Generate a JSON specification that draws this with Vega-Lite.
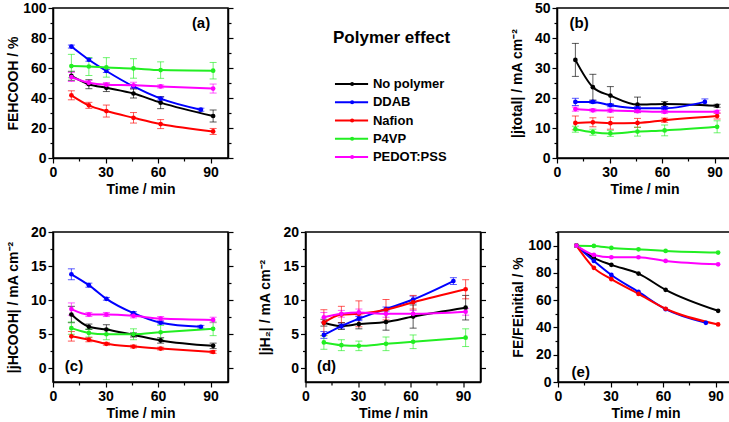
{
"$schema":"https://vega.github.io/schema/vega-lite/v6.json",
"padding":{"left":5,"top":0,"right":0,"bottom":0},
"spacing":27,
"datasets":{"d":[
{"p":"a","s":"No polymer","t":10.5,"v":54.8,"lo":51.8,"hi":57.8},
{"p":"a","s":"No polymer","t":20.5,"v":49.2,"lo":46.2,"hi":52.2},
{"p":"a","s":"No polymer","t":30.5,"v":46.8,"lo":44.3,"hi":49.3},
{"p":"a","s":"No polymer","t":46,"v":43.0,"lo":40.0,"hi":46.0},
{"p":"a","s":"No polymer","t":61.5,"v":36.9,"lo":32.9,"hi":40.9},
{"p":"a","s":"No polymer","t":91.5,"v":28.0,"lo":24.0,"hi":32.0},
{"p":"a","s":"DDAB","t":10.5,"v":74.3,"lo":73.3,"hi":75.3},
{"p":"a","s":"DDAB","t":20.5,"v":65.5,"lo":64.5,"hi":66.5},
{"p":"a","s":"DDAB","t":30.5,"v":58.0,"lo":57.0,"hi":59.0},
{"p":"a","s":"DDAB","t":46,"v":47.7,"lo":46.7,"hi":48.7},
{"p":"a","s":"DDAB","t":61.5,"v":39.6,"lo":38.6,"hi":40.6},
{"p":"a","s":"DDAB","t":84.5,"v":32.2,"lo":31.2,"hi":33.2},
{"p":"a","s":"Nafion","t":10.5,"v":41.8,"lo":38.8,"hi":44.8},
{"p":"a","s":"Nafion","t":20.5,"v":35.1,"lo":33.1,"hi":37.1},
{"p":"a","s":"Nafion","t":30.5,"v":31.3,"lo":27.3,"hi":35.3},
{"p":"a","s":"Nafion","t":46,"v":26.8,"lo":23.3,"hi":30.3},
{"p":"a","s":"Nafion","t":61.5,"v":22.6,"lo":19.6,"hi":25.6},
{"p":"a","s":"Nafion","t":91.5,"v":17.7,"lo":15.7,"hi":19.7},
{"p":"a","s":"P4VP","t":10.5,"v":61.3,"lo":53.5,"hi":69.1},
{"p":"a","s":"P4VP","t":20.5,"v":61.0,"lo":55.0,"hi":67.0},
{"p":"a","s":"P4VP","t":30.5,"v":60.4,"lo":53.9,"hi":66.9},
{"p":"a","s":"P4VP","t":46,"v":59.7,"lo":53.2,"hi":66.2},
{"p":"a","s":"P4VP","t":61.5,"v":58.6,"lo":53.1,"hi":64.1},
{"p":"a","s":"P4VP","t":91.5,"v":58.2,"lo":52.7,"hi":63.7},
{"p":"a","s":"PEDOT:PSS","t":10.5,"v":54.0,"lo":51.0,"hi":57.0},
{"p":"a","s":"PEDOT:PSS","t":20.5,"v":50.1,"lo":48.6,"hi":51.6},
{"p":"a","s":"PEDOT:PSS","t":30.5,"v":48.8,"lo":47.3,"hi":50.3},
{"p":"a","s":"PEDOT:PSS","t":46,"v":48.5,"lo":46.5,"hi":50.5},
{"p":"a","s":"PEDOT:PSS","t":61.5,"v":47.7,"lo":46.7,"hi":48.7},
{"p":"a","s":"PEDOT:PSS","t":91.5,"v":46.3,"lo":43.3,"hi":49.3},
{"p":"b","s":"No polymer","t":10.5,"v":32.7,"lo":27.2,"hi":38.2},
{"p":"b","s":"No polymer","t":20.5,"v":23.6,"lo":19.3,"hi":27.9},
{"p":"b","s":"No polymer","t":30.5,"v":20.8,"lo":17.8,"hi":23.8},
{"p":"b","s":"No polymer","t":46,"v":17.8,"lo":15.3,"hi":20.3},
{"p":"b","s":"No polymer","t":61.5,"v":18.0,"lo":17.2,"hi":18.8},
{"p":"b","s":"No polymer","t":91.5,"v":17.4,"lo":16.9,"hi":17.9},
{"p":"b","s":"DDAB","t":10.5,"v":18.7,"lo":17.5,"hi":19.9},
{"p":"b","s":"DDAB","t":20.5,"v":18.7,"lo":18.2,"hi":19.2},
{"p":"b","s":"DDAB","t":30.5,"v":17.6,"lo":17.1,"hi":18.1},
{"p":"b","s":"DDAB","t":46,"v":16.6,"lo":16.1,"hi":17.1},
{"p":"b","s":"DDAB","t":61.5,"v":16.6,"lo":16.1,"hi":17.1},
{"p":"b","s":"DDAB","t":84.5,"v":18.7,"lo":17.7,"hi":19.7},
{"p":"b","s":"Nafion","t":10.5,"v":11.7,"lo":9.4,"hi":14.0},
{"p":"b","s":"Nafion","t":20.5,"v":11.9,"lo":10.4,"hi":13.4},
{"p":"b","s":"Nafion","t":30.5,"v":11.6,"lo":9.6,"hi":13.6},
{"p":"b","s":"Nafion","t":46,"v":11.7,"lo":10.2,"hi":13.2},
{"p":"b","s":"Nafion","t":61.5,"v":12.6,"lo":11.9,"hi":13.3},
{"p":"b","s":"Nafion","t":91.5,"v":14.0,"lo":13.0,"hi":15.0},
{"p":"b","s":"P4VP","t":10.5,"v":9.6,"lo":8.6,"hi":10.6},
{"p":"b","s":"P4VP","t":20.5,"v":8.6,"lo":7.6,"hi":9.6},
{"p":"b","s":"P4VP","t":30.5,"v":8.2,"lo":7.2,"hi":9.2},
{"p":"b","s":"P4VP","t":46,"v":8.8,"lo":7.3,"hi":10.3},
{"p":"b","s":"P4VP","t":61.5,"v":9.2,"lo":7.4,"hi":11.0},
{"p":"b","s":"P4VP","t":91.5,"v":10.4,"lo":8.4,"hi":12.4},
{"p":"b","s":"PEDOT:PSS","t":10.5,"v":16.3,"lo":15.6,"hi":17.0},
{"p":"b","s":"PEDOT:PSS","t":20.5,"v":15.9,"lo":15.4,"hi":16.4},
{"p":"b","s":"PEDOT:PSS","t":30.5,"v":15.8,"lo":15.3,"hi":16.3},
{"p":"b","s":"PEDOT:PSS","t":46,"v":15.6,"lo":15.1,"hi":16.1},
{"p":"b","s":"PEDOT:PSS","t":61.5,"v":15.4,"lo":14.9,"hi":15.9},
{"p":"b","s":"PEDOT:PSS","t":91.5,"v":15.4,"lo":14.9,"hi":15.9},
{"p":"c","s":"No polymer","t":10.5,"v":7.9,"lo":6.7,"hi":9.1},
{"p":"c","s":"No polymer","t":20.5,"v":6.1,"lo":5.7,"hi":6.5},
{"p":"c","s":"No polymer","t":30.5,"v":5.7,"lo":5.0,"hi":6.4},
{"p":"c","s":"No polymer","t":46,"v":4.9,"lo":4.6,"hi":5.2},
{"p":"c","s":"No polymer","t":61.5,"v":4.1,"lo":3.7,"hi":4.5},
{"p":"c","s":"No polymer","t":91.5,"v":3.3,"lo":2.9,"hi":3.7},
{"p":"c","s":"DDAB","t":10.5,"v":13.8,"lo":13.0,"hi":14.6},
{"p":"c","s":"DDAB","t":20.5,"v":12.2,"lo":11.9,"hi":12.5},
{"p":"c","s":"DDAB","t":30.5,"v":10.2,"lo":10.0,"hi":10.4},
{"p":"c","s":"DDAB","t":46,"v":8.1,"lo":7.9,"hi":8.3},
{"p":"c","s":"DDAB","t":61.5,"v":6.7,"lo":6.5,"hi":6.9},
{"p":"c","s":"DDAB","t":84.5,"v":6.1,"lo":5.9,"hi":6.3},
{"p":"c","s":"Nafion","t":10.5,"v":4.7,"lo":4.0,"hi":5.4},
{"p":"c","s":"Nafion","t":20.5,"v":4.2,"lo":3.9,"hi":4.5},
{"p":"c","s":"Nafion","t":30.5,"v":3.6,"lo":3.4,"hi":3.8},
{"p":"c","s":"Nafion","t":46,"v":3.2,"lo":3.0,"hi":3.4},
{"p":"c","s":"Nafion","t":61.5,"v":2.9,"lo":2.7,"hi":3.1},
{"p":"c","s":"Nafion","t":91.5,"v":2.4,"lo":2.2,"hi":2.6},
{"p":"c","s":"P4VP","t":10.5,"v":5.9,"lo":5.0,"hi":6.8},
{"p":"c","s":"P4VP","t":20.5,"v":5.2,"lo":4.6,"hi":5.8},
{"p":"c","s":"P4VP","t":30.5,"v":5.0,"lo":4.2,"hi":5.8},
{"p":"c","s":"P4VP","t":46,"v":5.0,"lo":4.2,"hi":5.8},
{"p":"c","s":"P4VP","t":61.5,"v":5.3,"lo":4.3,"hi":6.3},
{"p":"c","s":"P4VP","t":91.5,"v":5.8,"lo":4.8,"hi":6.8},
{"p":"c","s":"PEDOT:PSS","t":10.5,"v":8.7,"lo":7.8,"hi":9.6},
{"p":"c","s":"PEDOT:PSS","t":20.5,"v":7.9,"lo":7.6,"hi":8.2},
{"p":"c","s":"PEDOT:PSS","t":30.5,"v":7.9,"lo":7.6,"hi":8.2},
{"p":"c","s":"PEDOT:PSS","t":46,"v":7.7,"lo":7.4,"hi":8.0},
{"p":"c","s":"PEDOT:PSS","t":61.5,"v":7.3,"lo":7.0,"hi":7.6},
{"p":"c","s":"PEDOT:PSS","t":91.5,"v":7.1,"lo":6.7,"hi":7.5},
{"p":"d","s":"No polymer","t":10.5,"v":6.7,"lo":6.2,"hi":7.2},
{"p":"d","s":"No polymer","t":20.5,"v":6.2,"lo":5.7,"hi":6.7},
{"p":"d","s":"No polymer","t":30.5,"v":6.5,"lo":5.8,"hi":7.2},
{"p":"d","s":"No polymer","t":46,"v":6.8,"lo":5.6,"hi":8.0},
{"p":"d","s":"No polymer","t":61.5,"v":7.6,"lo":5.9,"hi":9.3},
{"p":"d","s":"No polymer","t":91.5,"v":8.9,"lo":7.1,"hi":10.7},
{"p":"d","s":"DDAB","t":10.5,"v":4.9,"lo":4.4,"hi":5.4},
{"p":"d","s":"DDAB","t":20.5,"v":6.2,"lo":5.9,"hi":6.5},
{"p":"d","s":"DDAB","t":30.5,"v":7.3,"lo":7.0,"hi":7.6},
{"p":"d","s":"DDAB","t":46,"v":8.7,"lo":8.4,"hi":9.0},
{"p":"d","s":"DDAB","t":61.5,"v":10.1,"lo":9.6,"hi":10.6},
{"p":"d","s":"DDAB","t":84.5,"v":12.8,"lo":12.3,"hi":13.3},
{"p":"d","s":"Nafion","t":10.5,"v":6.7,"lo":4.8,"hi":8.6},
{"p":"d","s":"Nafion","t":20.5,"v":7.9,"lo":6.7,"hi":9.1},
{"p":"d","s":"Nafion","t":30.5,"v":8.0,"lo":6.1,"hi":9.9},
{"p":"d","s":"Nafion","t":46,"v":8.6,"lo":7.1,"hi":10.1},
{"p":"d","s":"Nafion","t":61.5,"v":9.7,"lo":8.7,"hi":10.7},
{"p":"d","s":"Nafion","t":91.5,"v":11.6,"lo":10.2,"hi":13.0},
{"p":"d","s":"P4VP","t":10.5,"v":3.8,"lo":2.8,"hi":4.8},
{"p":"d","s":"P4VP","t":20.5,"v":3.4,"lo":2.6,"hi":4.2},
{"p":"d","s":"P4VP","t":30.5,"v":3.3,"lo":2.6,"hi":4.0},
{"p":"d","s":"P4VP","t":46,"v":3.6,"lo":2.6,"hi":4.6},
{"p":"d","s":"P4VP","t":61.5,"v":3.9,"lo":2.9,"hi":4.9},
{"p":"d","s":"P4VP","t":91.5,"v":4.5,"lo":3.2,"hi":5.8},
{"p":"d","s":"PEDOT:PSS","t":10.5,"v":7.5,"lo":6.8,"hi":8.2},
{"p":"d","s":"PEDOT:PSS","t":20.5,"v":8.0,"lo":7.5,"hi":8.5},
{"p":"d","s":"PEDOT:PSS","t":30.5,"v":8.2,"lo":7.7,"hi":8.7},
{"p":"d","s":"PEDOT:PSS","t":46,"v":8.0,"lo":7.5,"hi":8.5},
{"p":"d","s":"PEDOT:PSS","t":61.5,"v":8.0,"lo":7.5,"hi":8.5},
{"p":"d","s":"PEDOT:PSS","t":91.5,"v":8.3,"lo":7.8,"hi":8.8},
{"p":"e","s":"No polymer","t":10.5,"v":100},
{"p":"e","s":"No polymer","t":20.5,"v":91.0},
{"p":"e","s":"No polymer","t":30.5,"v":85.9},
{"p":"e","s":"No polymer","t":46,"v":79.5},
{"p":"e","s":"No polymer","t":61.5,"v":67.6},
{"p":"e","s":"No polymer","t":91.5,"v":52.2},
{"p":"e","s":"DDAB","t":10.5,"v":100},
{"p":"e","s":"DDAB","t":20.5,"v":88.8},
{"p":"e","s":"DDAB","t":30.5,"v":78.5},
{"p":"e","s":"DDAB","t":46,"v":66.1},
{"p":"e","s":"DDAB","t":61.5,"v":53.4},
{"p":"e","s":"DDAB","t":84.5,"v":43.4},
{"p":"e","s":"Nafion","t":10.5,"v":100},
{"p":"e","s":"Nafion","t":20.5,"v":83.7},
{"p":"e","s":"Nafion","t":30.5,"v":75.4},
{"p":"e","s":"Nafion","t":46,"v":64.6},
{"p":"e","s":"Nafion","t":61.5,"v":53.7},
{"p":"e","s":"Nafion","t":91.5,"v":42.2},
{"p":"e","s":"P4VP","t":10.5,"v":100},
{"p":"e","s":"P4VP","t":20.5,"v":99.8},
{"p":"e","s":"P4VP","t":30.5,"v":98.3},
{"p":"e","s":"P4VP","t":46,"v":97.3},
{"p":"e","s":"P4VP","t":61.5,"v":96.1},
{"p":"e","s":"P4VP","t":91.5,"v":94.9},
{"p":"e","s":"PEDOT:PSS","t":10.5,"v":100},
{"p":"e","s":"PEDOT:PSS","t":20.5,"v":93.2},
{"p":"e","s":"PEDOT:PSS","t":30.5,"v":91.5},
{"p":"e","s":"PEDOT:PSS","t":46,"v":91.5},
{"p":"e","s":"PEDOT:PSS","t":61.5,"v":88.8},
{"p":"e","s":"PEDOT:PSS","t":91.5,"v":86.3}
]},
"vconcat":[
{"hconcat":[
{"width":175,"height":150,"data":{"name":"d"},"transform":[{"filter":"datum.p === 'a'"}],
 "resolve":{"scale":{"y":"independent"}},
 "layer":[
  {"encoding":{"x":{"field":"t","type":"quantitative","title":"Time / min","scale":{"domain":[0,100],"nice":false},
     "axis":{"values":[0,15,30,45,60,75,90],"format":"d","tickCount":100,"labelOverlap":false,"labelExpr":"datum.value % 30 === 0 ? datum.label : ''","tickSize":{"condition":{"test":"datum.value % 30 === 0","value":5},"value":3},"labelPadding":2,"titlePadding":3}}},
   "layer":[
    {"mark":{"type":"errorbar","ticks":{"size":7},"thickness":1,"opacity":0.65},"encoding":{"y":{"field":"lo","type":"quantitative","title":"FEHCOOH / %","scale":{"domain":[0,100],"nice":false},
       "axis":{"values":[0,10,20,30,40,50,60,70,80,90,100],"format":"d","tickCount":100,"labelOverlap":false,"labelExpr":"datum.value % 20 === 0 ? datum.label : ''","tickSize":{"condition":{"test":"datum.value % 20 === 0","value":5},"value":3},"labelPadding":2,"titleX":-40,"titleAngle":270,"titleBaseline":"middle","titleAlign":"center"}},
      "y2":{"field":"hi"},"color":{"field":"s","type":"nominal","scale":{"domain":["No polymer","DDAB","Nafion","P4VP","PEDOT:PSS"],"range":["#000000","#0000ff","#ff0000","#22ee22","#ff00ff"]},"legend":null}}},
    {"mark":{"type":"line","interpolate":"monotone","strokeWidth":2},"encoding":{"y":{"field":"v","type":"quantitative","title":"FEHCOOH / %"},"color":{"field":"s","type":"nominal","legend":null}}},
    {"mark":{"type":"circle","size":22,"opacity":1},"encoding":{"y":{"field":"v","type":"quantitative","title":"FEHCOOH / %"},"color":{"field":"s","type":"nominal","legend":null}}},
    {"transform":[{"filter":"datum.s === 'No polymer' && datum.t === 10.5"}],"mark":{"type":"text","text":"(a)","fontSize":15,"fontWeight":"bold","color":"black"},"encoding":{"x":{"datum":84.6},"y":{"datum":90}}}
   ]},
  {"mark":{"type":"point","opacity":0},"encoding":{"y":{"field":"v","type":"quantitative","title":null,"scale":{"domain":[0,100],"nice":false},
     "axis":{"orient":"right","labels":false,"tickCount":100,"values":[0,10,20,30,40,50,60,70,80,90,100],"tickSize":{"condition":{"test":"datum.value % 20 === 0","value":5},"value":3}}}}}
 ]},
{"width":228.5,"height":150,
 "view":{"stroke":null},
 "title":{"text":"Polymer effect","frame":"group","anchor":"start","dx":75.5,"offset":-47,"baseline":"middle","fontSize":17,"fontWeight":"bold","color":"black"},
 "data":{"values":[{"s":"No polymer"},{"s":"DDAB"},{"s":"Nafion"},{"s":"P4VP"},{"s":"PEDOT:PSS"}]},
 "encoding":{"y":{"field":"s","type":"nominal","sort":null,"scale":{"type":"point","range":[76,149],"padding":0},"axis":null}},
 "layer":[
  {"mark":{"type":"rule","strokeWidth":2},"encoding":{"x":{"datum":0.339,"scale":{"domain":[0,1]},"axis":null},"x2":{"datum":0.484},"color":{"field":"s","type":"nominal","legend":null}}},
  {"mark":{"type":"circle","size":16,"opacity":1},"encoding":{"x":{"datum":0.414},"color":{"field":"s","type":"nominal","legend":null}}},
  {"mark":{"type":"text","align":"left","baseline":"middle","fontSize":13,"fontWeight":"bold","color":"black"},"encoding":{"x":{"datum":0.505},"text":{"field":"s"}}}
 ]},
{"width":175,"height":150,"data":{"name":"d"},"transform":[{"filter":"datum.p === 'b'"}],
 "resolve":{"scale":{"y":"independent"}},
 "layer":[
  {"encoding":{"x":{"field":"t","type":"quantitative","title":"Time / min","scale":{"domain":[0,100],"nice":false},
     "axis":{"values":[0,15,30,45,60,75,90],"format":"d","tickCount":100,"labelOverlap":false,"labelExpr":"datum.value % 30 === 0 ? datum.label : ''","tickSize":{"condition":{"test":"datum.value % 30 === 0","value":5},"value":3},"labelPadding":2,"titlePadding":3}}},
   "layer":[
    {"mark":{"type":"errorbar","ticks":{"size":7},"thickness":1,"opacity":0.65},"encoding":{"y":{"field":"lo","type":"quantitative","title":"|jtotal| / mA cm⁻²","scale":{"domain":[0,50],"nice":false},
       "axis":{"values":[0,5,10,15,20,25,30,35,40,45,50],"format":"d","tickCount":100,"labelOverlap":false,"labelExpr":"datum.value % 10 === 0 ? datum.label : ''","tickSize":{"condition":{"test":"datum.value % 10 === 0","value":5},"value":3},"labelPadding":2,"titleX":-40,"titleAngle":270,"titleBaseline":"middle","titleAlign":"center"}},
      "y2":{"field":"hi"},"color":{"field":"s","type":"nominal","legend":null}}},
    {"mark":{"type":"line","interpolate":"monotone","strokeWidth":2},"encoding":{"y":{"field":"v","type":"quantitative","title":"|jtotal| / mA cm⁻²"},"color":{"field":"s","type":"nominal","legend":null}}},
    {"mark":{"type":"circle","size":22,"opacity":1},"encoding":{"y":{"field":"v","type":"quantitative","title":"|jtotal| / mA cm⁻²"},"color":{"field":"s","type":"nominal","legend":null}}},
    {"transform":[{"filter":"datum.s === 'No polymer' && datum.t === 10.5"}],"mark":{"type":"text","text":"(b)","fontSize":15,"fontWeight":"bold","color":"black"},"encoding":{"x":{"datum":12.6},"y":{"datum":45}}}
   ]},
  {"mark":{"type":"point","opacity":0},"encoding":{"y":{"field":"v","type":"quantitative","title":null,"scale":{"domain":[0,50],"nice":false},
     "axis":{"orient":"right","labels":false,"tickCount":100,"values":[0,5,10,15,20,25,30,35,40,45,50],"tickSize":{"condition":{"test":"datum.value % 10 === 0","value":5},"value":3}}}}}
 ]}
],"spacing":22.5},
{"hconcat":[
{"width":175,"height":150,"data":{"name":"d"},"transform":[{"filter":"datum.p === 'c'"}],
 "resolve":{"scale":{"y":"independent"}},
 "layer":[
  {"encoding":{"x":{"field":"t","type":"quantitative","title":"Time / min","scale":{"domain":[0,100],"nice":false},
     "axis":{"values":[0,15,30,45,60,75,90],"format":"d","tickCount":100,"labelOverlap":false,"labelExpr":"datum.value % 30 === 0 ? datum.label : ''","tickSize":{"condition":{"test":"datum.value % 30 === 0","value":5},"value":3},"labelPadding":2,"titlePadding":3}}},
   "layer":[
    {"mark":{"type":"errorbar","ticks":{"size":7},"thickness":1,"opacity":0.65},"encoding":{"y":{"field":"lo","type":"quantitative","title":"|jHCOOH| / mA cm⁻²","scale":{"domain":[-2,20],"nice":false,"zero":false},
       "axis":{"values":[0,2.5,5,7.5,10,12.5,15,17.5,20],"format":"d","tickCount":100,"labelOverlap":false,"labelExpr":"datum.value % 5 === 0 ? datum.label : ''","tickSize":{"condition":{"test":"datum.value % 5 === 0","value":5},"value":3},"labelPadding":2,"titleX":-40,"titleAngle":270,"titleBaseline":"middle","titleAlign":"center"}},
      "y2":{"field":"hi"},"color":{"field":"s","type":"nominal","legend":null}}},
    {"mark":{"type":"line","interpolate":"monotone","strokeWidth":2},"encoding":{"y":{"field":"v","type":"quantitative","title":"|jHCOOH| / mA cm⁻²"},"color":{"field":"s","type":"nominal","legend":null}}},
    {"mark":{"type":"circle","size":22,"opacity":1},"encoding":{"y":{"field":"v","type":"quantitative","title":"|jHCOOH| / mA cm⁻²"},"color":{"field":"s","type":"nominal","legend":null}}},
    {"transform":[{"filter":"datum.s === 'No polymer' && datum.t === 10.5"}],"mark":{"type":"text","text":"(c)","fontSize":15,"fontWeight":"bold","color":"black"},"encoding":{"x":{"datum":12},"y":{"datum":0.4}}}
   ]},
  {"mark":{"type":"point","opacity":0},"encoding":{"y":{"field":"v","type":"quantitative","title":null,"scale":{"domain":[-2,20],"nice":false,"zero":false},
     "axis":{"orient":"right","labels":false,"tickCount":100,"values":[0,2.5,5,7.5,10,12.5,15,17.5,20],"tickSize":{"condition":{"test":"datum.value % 5 === 0","value":5},"value":3}}}}}
 ]},
{"width":175,"height":150,"data":{"name":"d"},"transform":[{"filter":"datum.p === 'd'"}],
 "resolve":{"scale":{"y":"independent"}},
 "layer":[
  {"encoding":{"x":{"field":"t","type":"quantitative","title":"Time / min","scale":{"domain":[0,100],"nice":false},
     "axis":{"values":[0,15,30,45,60,75,90],"format":"d","tickCount":100,"labelOverlap":false,"labelExpr":"datum.value % 30 === 0 ? datum.label : ''","tickSize":{"condition":{"test":"datum.value % 30 === 0","value":5},"value":3},"labelPadding":2,"titlePadding":3}}},
   "layer":[
    {"mark":{"type":"errorbar","ticks":{"size":7},"thickness":1,"opacity":0.65},"encoding":{"y":{"field":"lo","type":"quantitative","title":"|jH₂| / mA cm⁻²","scale":{"domain":[-2,20],"nice":false,"zero":false},
       "axis":{"values":[0,2.5,5,7.5,10,12.5,15,17.5,20],"format":"d","tickCount":100,"labelOverlap":false,"labelExpr":"datum.value % 5 === 0 ? datum.label : ''","tickSize":{"condition":{"test":"datum.value % 5 === 0","value":5},"value":3},"labelPadding":2,"titleX":-40,"titleAngle":270,"titleBaseline":"middle","titleAlign":"center"}},
      "y2":{"field":"hi"},"color":{"field":"s","type":"nominal","legend":null}}},
    {"mark":{"type":"line","interpolate":"monotone","strokeWidth":2},"encoding":{"y":{"field":"v","type":"quantitative","title":"|jH₂| / mA cm⁻²"},"color":{"field":"s","type":"nominal","legend":null}}},
    {"mark":{"type":"circle","size":22,"opacity":1},"encoding":{"y":{"field":"v","type":"quantitative","title":"|jH₂| / mA cm⁻²"},"color":{"field":"s","type":"nominal","legend":null}}},
    {"transform":[{"filter":"datum.s === 'No polymer' && datum.t === 10.5"}],"mark":{"type":"text","text":"(d)","fontSize":15,"fontWeight":"bold","color":"black"},"encoding":{"x":{"datum":12},"y":{"datum":0.4}}}
   ]},
  {"mark":{"type":"point","opacity":0},"encoding":{"y":{"field":"v","type":"quantitative","title":null,"scale":{"domain":[-2,20],"nice":false,"zero":false},
     "axis":{"orient":"right","labels":false,"tickCount":100,"values":[0,2.5,5,7.5,10,12.5,15,17.5,20],"tickSize":{"condition":{"test":"datum.value % 5 === 0","value":5},"value":3}}}}}
 ]},
{"width":175,"height":150,"data":{"name":"d"},"transform":[{"filter":"datum.p === 'e'"}],
 "resolve":{"scale":{"y":"independent"}},
 "layer":[
  {"encoding":{"x":{"field":"t","type":"quantitative","title":"Time / min","scale":{"domain":[0,100],"nice":false},
     "axis":{"values":[0,15,30,45,60,75,90],"format":"d","tickCount":100,"labelOverlap":false,"labelExpr":"datum.value % 30 === 0 ? datum.label : ''","tickSize":{"condition":{"test":"datum.value % 30 === 0","value":5},"value":3},"labelPadding":2,"titlePadding":3}}},
   "layer":[
    {"mark":{"type":"line","interpolate":"monotone","strokeWidth":2},"encoding":{"y":{"field":"v","type":"quantitative","title":"FE/FEinitial / %","scale":{"domain":[0,110],"nice":false},
       "axis":{"values":[0,10,20,30,40,50,60,70,80,90,100,110],"format":"d","tickCount":100,"labelOverlap":false,"labelExpr":"datum.value % 20 === 0 && datum.value <= 100 ? datum.label : ''","tickSize":{"condition":{"test":"datum.value % 20 === 0","value":5},"value":3},"labelPadding":2,"titleX":-40,"titleAngle":270,"titleBaseline":"middle","titleAlign":"center"}},
      "color":{"field":"s","type":"nominal","legend":null}}},
    {"mark":{"type":"circle","size":22,"opacity":1},"encoding":{"y":{"field":"v","type":"quantitative","title":"FE/FEinitial / %"},"color":{"field":"s","type":"nominal","legend":null}}},
    {"transform":[{"filter":"datum.s === 'No polymer' && datum.t === 10.5"}],"mark":{"type":"text","text":"(e)","fontSize":15,"fontWeight":"bold","color":"black"},"encoding":{"x":{"datum":13},"y":{"datum":7}}}
   ]},
  {"mark":{"type":"point","opacity":0},"encoding":{"y":{"field":"v","type":"quantitative","title":null,"scale":{"domain":[0,110],"nice":false},
     "axis":{"orient":"right","labels":false,"tickCount":100,"values":[0,10,20,30,40,50,60,70,80,90,100,110],"tickSize":{"condition":{"test":"datum.value % 20 === 0","value":5},"value":3}}}}}
 ]}
],"spacing":22.5}
],
"config":{
 "font":"Liberation Sans",
 "view":{"stroke":"black","strokeWidth":1.5},
 "axis":{"labelFont":"Liberation Sans","labelFontWeight":"bold","labelFontSize":14,"labelColor":"black","titleFont":"Liberation Sans","titleFontWeight":"bold","titleFontSize":14,"titleColor":"black","domainColor":"black","domainWidth":1.5,"tickColor":"black","tickWidth":1.2,"grid":false,"labelOverlap":false,"labelFlush":false},
 "title":{"font":"Liberation Sans"},
 "text":{"font":"Liberation Sans"}
}
}
